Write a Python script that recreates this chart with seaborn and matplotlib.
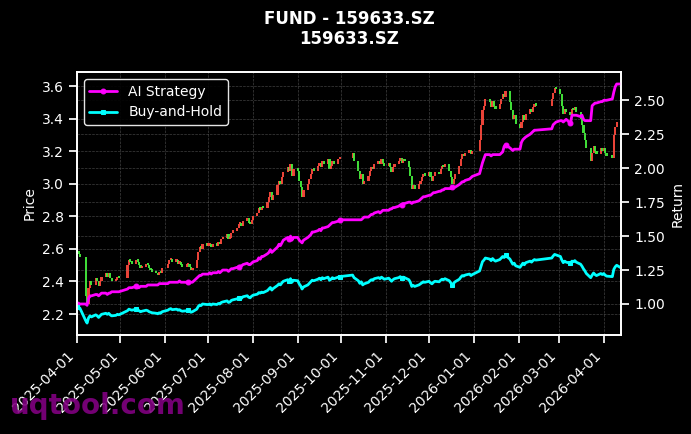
import numpy as np
import pandas as pd
import seaborn as sns
import matplotlib
matplotlib.use("Agg")
import matplotlib.pyplot as plt
import matplotlib.dates as mdates

# trading days (A-share calendar, holidays removed)
holidays = ["2025-04-04", "2025-05-01", "2025-05-02", "2025-05-05", "2025-06-02",
            "2025-10-01", "2025-10-02", "2025-10-03", "2025-10-06", "2025-10-07", "2025-10-08",
            "2026-01-01", "2026-01-02", "2026-02-16", "2026-02-17", "2026-02-18",
            "2026-02-19", "2026-02-20", "2026-02-23", "2026-04-06"]
dates = pd.bdate_range("2025-04-01", "2026-04-13")
dates = dates[~dates.isin(pd.to_datetime(holidays))]

# daily closes, month by month
close_apr = [2.58, 2.57, 2.55, 2.31, 2.26, 2.36, 2.40, 2.38, 2.42, 2.40, 2.37, 2.40, 2.43,
             2.45, 2.43, 2.45, 2.42, 2.40, 2.41, 2.43, 2.42]
close_may = [2.50, 2.53, 2.52, 2.51, 2.53, 2.52, 2.50, 2.48, 2.49, 2.51, 2.50, 2.48, 2.47,
             2.46, 2.45, 2.44, 2.46, 2.45, 2.48]
close_jun = [2.51, 2.53, 2.54, 2.52, 2.53, 2.51, 2.52, 2.50, 2.49, 2.50, 2.51, 2.49, 2.47,
             2.48, 2.53, 2.58, 2.61, 2.60, 2.63, 2.62]
close_jul = [2.62, 2.63, 2.61, 2.63, 2.62, 2.64, 2.63, 2.66, 2.67, 2.69, 2.66, 2.67, 2.70,
             2.71, 2.73, 2.75, 2.76, 2.74, 2.77, 2.79, 2.76, 2.75, 2.78]
close_aug = [2.80, 2.82, 2.85, 2.84, 2.86, 2.85, 2.89, 2.92, 2.95, 2.90, 2.93, 2.99, 3.02,
             3.00, 3.04, 3.07, 3.10, 3.08, 3.12, 3.05, 3.09]
close_sep = [3.08, 3.02, 2.98, 2.92, 2.96, 3.00, 3.03, 3.06, 3.09, 3.08, 3.11, 3.13, 3.10,
             3.14, 3.12, 3.15, 3.09, 3.11, 3.14, 3.12, 3.15, 3.16]
close_oct = [3.19, 3.14, 3.08, 3.03, 3.06, 3.00, 3.02, 3.05, 3.08, 3.10, 3.09, 3.12, 3.14,
             3.12, 3.15, 3.13, 3.11]
close_nov = [3.13, 3.10, 3.07, 3.10, 3.12, 3.14, 3.16, 3.13, 3.15, 3.14, 3.10, 3.05, 2.97,
             2.99, 2.97, 3.00, 3.02, 3.04, 3.06, 3.05]
close_dec = [3.07, 3.04, 3.02, 3.05, 3.07, 3.06, 3.09, 3.11, 3.10, 3.12, 3.08, 3.04, 3.00,
             3.03, 3.06, 3.11, 3.15, 3.18, 3.17, 3.19, 3.21, 3.18, 3.20]
close_jan = [3.27, 3.36, 3.45, 3.48, 3.52, 3.50, 3.47, 3.51, 3.48, 3.46, 3.49, 3.52, 3.55,
             3.53, 3.57, 3.50, 3.45, 3.40, 3.42, 3.37]
close_feb = [3.34, 3.38, 3.42, 3.39, 3.43, 3.46, 3.44, 3.47, 3.49, 3.48, 3.52, 3.56, 3.59, 3.58]
close_mar = [3.55, 3.48, 3.43, 3.46, 3.44, 3.42, 3.46, 3.45, 3.47, 3.44, 3.40, 3.36, 3.31,
             3.27, 3.22, 3.14, 3.19, 3.23, 3.20, 3.18, 3.22, 3.20]
close_apr26 = [3.22, 3.19, 3.17, 3.16, 3.30, 3.35, 3.38, 3.33]

# AI strategy cumulative return
ai_apr = [1.00, 1.00, 1.00, 1.00, 0.99, 1.04, 1.06, 1.06, 1.07, 1.07, 1.06, 1.07, 1.08,
          1.08, 1.07, 1.08, 1.08, 1.09, 1.09, 1.09, 1.09]
ai_may = [1.11, 1.12, 1.12, 1.12, 1.13, 1.12, 1.12, 1.13, 1.13, 1.13, 1.14, 1.14, 1.14,
          1.14, 1.14, 1.14, 1.15, 1.15, 1.15]
ai_jun = [1.15, 1.16, 1.16, 1.16, 1.16, 1.16, 1.17, 1.16, 1.16, 1.16, 1.16, 1.16, 1.16,
          1.16, 1.19, 1.20, 1.21, 1.21, 1.22, 1.22]
ai_jul = [1.22, 1.23, 1.22, 1.23, 1.23, 1.24, 1.23, 1.24, 1.25, 1.25, 1.24, 1.25, 1.26,
          1.26, 1.27, 1.27, 1.28, 1.28, 1.29, 1.30, 1.29, 1.29, 1.30]
ai_aug = [1.31, 1.32, 1.34, 1.33, 1.35, 1.35, 1.37, 1.38, 1.40, 1.38, 1.39, 1.42, 1.44,
          1.43, 1.45, 1.47, 1.49, 1.48, 1.50, 1.47, 1.49]
ai_sep = [1.49, 1.47, 1.46, 1.45, 1.47, 1.49, 1.50, 1.51, 1.53, 1.53, 1.54, 1.55, 1.54,
          1.56, 1.56, 1.57, 1.58, 1.59, 1.60, 1.60, 1.61, 1.62]
ai_oct = [1.62, 1.62, 1.62, 1.62, 1.62, 1.63, 1.64, 1.64, 1.65, 1.66, 1.66, 1.67, 1.68,
          1.67, 1.68, 1.69, 1.69]
ai_nov = [1.69, 1.70, 1.70, 1.71, 1.71, 1.72, 1.73, 1.73, 1.74, 1.74, 1.75, 1.75, 1.74,
          1.75, 1.75, 1.76, 1.77, 1.78, 1.79, 1.79]
ai_dec = [1.80, 1.80, 1.81, 1.82, 1.82, 1.83, 1.83, 1.84, 1.84, 1.85, 1.85, 1.85, 1.86,
          1.86, 1.86, 1.88, 1.89, 1.90, 1.90, 1.91, 1.92, 1.93, 1.94]
ai_jan = [1.96, 2.00, 2.04, 2.07, 2.10, 2.10, 2.09, 2.10, 2.10, 2.10, 2.10, 2.11, 2.12,
          2.16, 2.17, 2.15, 2.14, 2.13, 2.14, 2.14]
ai_feb = [2.14, 2.19, 2.21, 2.22, 2.23, 2.25, 2.26, 2.27, 2.28, 2.28, 2.29, 2.32, 2.33, 2.34]
ai_mar = [2.35, 2.35, 2.34, 2.35, 2.36, 2.33, 2.39, 2.39, 2.39, 2.39, 2.38, 2.39, 2.36,
          2.35, 2.35, 2.35, 2.46, 2.47, 2.48, 2.48, 2.49, 2.49]
ai_apr26 = [2.50, 2.50, 2.50, 2.51, 2.56, 2.60, 2.62, 2.62]

bh_base = 2.63  # reference price for buy-and-hold return

close = np.array(close_apr + close_may + close_jun + close_jul + close_aug + close_sep
                 + close_oct + close_nov + close_dec + close_jan + close_feb + close_mar
                 + close_apr26)
ai = np.array(ai_apr + ai_may + ai_jun + ai_jul + ai_aug + ai_sep + ai_oct + ai_nov
              + ai_dec + ai_jan + ai_feb + ai_mar + ai_apr26)
opn = np.concatenate([[close[0]], close[:-1]])
bh = close / bh_base

df = pd.DataFrame({"date": dates, "open": opn, "close": close, "ai": ai, "bh": bh})

# ------------------------------
sns.set_theme(style="dark")
plt.rcParams.update({
    "figure.facecolor": "black", "axes.facecolor": "black",
    "axes.edgecolor": "white", "axes.labelcolor": "white",
    "xtick.color": "white", "ytick.color": "white", "text.color": "white",
    "xtick.bottom": True, "ytick.left": True,
    "font.family": ["DejaVu Sans"], "font.size": 10,
    "axes.labelsize": 10, "xtick.labelsize": 10, "ytick.labelsize": 10,
})

fig, ax = plt.subplots(figsize=(6.91, 4.34), dpi=100)
fig.subplots_adjust(left=0.1114, right=0.8987, top=0.834, bottom=0.228)

up = df["close"] >= df["open"]
body = (df["close"] - df["open"]).abs().clip(lower=0.015)
bottom = df[["open", "close"]].min(axis=1)
ax.bar(df["date"], body, bottom=bottom, width=1.5,
       color=np.where(up, "#ff4a3d", "#45f03c"), alpha=0.92, linewidth=0, zorder=2)

ax.set_ylim(2.071, 3.686)
ax.set_ylabel("Price")
ax.grid(True, color="gray", linestyle="--", linewidth=0.5, alpha=0.5)

ax2 = ax.twinx()
sns.lineplot(data=df, x="date", y="ai", ax=ax2, color="magenta", lw=2,
             marker="o", markersize=3.5, markevery=25, markeredgecolor="magenta",
             label="AI Strategy")
sns.lineplot(data=df, x="date", y="bh", ax=ax2, color="cyan", lw=2,
             marker="s", markersize=3.5, markevery=25, markeredgecolor="cyan",
             label="Buy-and-Hold")
ax2.set_ylabel("Return")
ax2.set_xlabel("")
ax2.grid(True, axis="y", color="gray", linestyle="--", linewidth=0.5, alpha=0.5)
ax2.yaxis.set_major_formatter(matplotlib.ticker.FormatStrFormatter("%.2f"))
ax2.tick_params(axis="y", right=True, colors="white")
for sp in ax2.spines.values():
    sp.set_color("white")

ax.set_xlim(df["date"].iloc[0], df["date"].iloc[-1])
ax.xaxis.set_major_locator(mdates.MonthLocator())
ax.xaxis.set_major_formatter(mdates.DateFormatter("%Y-%m-%d"))
ax.set_xlabel("")
plt.setp(ax.get_xticklabels(), rotation=45, ha="right")

leg = ax2.legend(loc="upper left", facecolor="black", edgecolor="white",
                 labelcolor="white", fontsize=10)
leg.get_frame().set_alpha(0.9)

fig.suptitle("FUND - 159633.SZ\n159633.SZ", x=0.505, y=0.978,
             fontsize=12, fontweight="bold", color="white")
fig.text(0.014, 0.045, "uqtool.com", fontsize=20, fontweight="bold",
         color="purple", alpha=0.9, va="baseline")

fig.savefig("out.png", dpi=100, facecolor="black")
